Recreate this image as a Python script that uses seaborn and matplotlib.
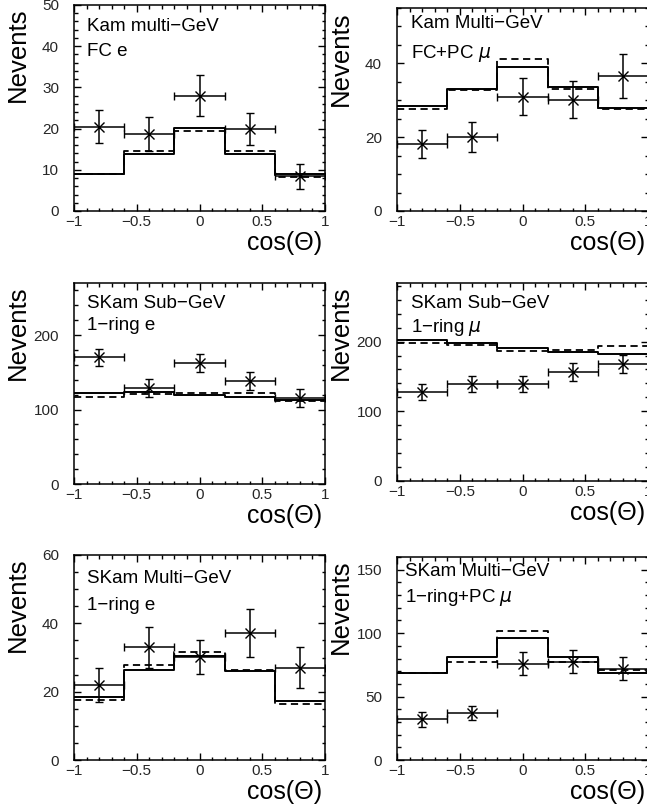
import numpy as np
import matplotlib
matplotlib.use("Agg")
import matplotlib.pyplot as plt
import seaborn as sns
from matplotlib.ticker import MultipleLocator

# ---------------- data ----------------
edges = [-1.0, -0.6, -0.2, 0.2, 0.6, 1.0]
centers = [-0.8, -0.4, 0.0, 0.4, 0.8]
x_half_width = 0.2

titles = [
    ("Kam multi−GeV", "FC e"),
    ("Kam Multi−GeV", "FC+PC $\\mu$"),
    ("SKam Sub−GeV", "1−ring e"),
    ("SKam Sub−GeV", "1−ring $\\mu$"),
    ("SKam Multi−GeV", "1−ring e"),
    ("SKam Multi−GeV", "1−ring+PC $\\mu$"),
]

kam_mg_e_data = [20.5, 18.7, 28.0, 19.9, 8.4]
kam_mg_e_err = [4.0, 4.1, 5.0, 4.0, 3.0]
kam_mg_e_solid = [9.1, 13.9, 20.1, 13.9, 8.9]
kam_mg_e_dashed = [9.0, 14.6, 19.4, 14.6, 8.3]

kam_mg_mu_data = [18.2, 20.0, 31.0, 30.2, 36.6]
kam_mg_mu_err = [3.8, 4.0, 4.9, 5.0, 6.0]
kam_mg_mu_solid = [28.5, 33.1, 39.0, 33.5, 28.0]
kam_mg_mu_dashed = [27.6, 32.8, 41.3, 33.0, 27.7]

sk_sg_e_data = [170, 129, 163, 138, 116]
sk_sg_e_err = [12, 12, 12, 12, 12]
sk_sg_e_solid = [122, 123.5, 120, 116.5, 113]
sk_sg_e_dashed = [117, 121, 122, 122, 111]

sk_sg_mu_data = [127, 139, 139, 156, 168]
sk_sg_mu_err = [11.5, 12, 12, 13, 12.5]
sk_sg_mu_solid = [202, 197.5, 191, 185.5, 181.8]
sk_sg_mu_dashed = [197.5, 195, 186.5, 188, 194]

sk_mg_e_data = [22.0, 33.0, 30.2, 37.1, 27.0]
sk_mg_e_err = [5, 6, 5, 7, 6]
sk_mg_e_solid = [18.3, 26.2, 30.5, 26.0, 17.3]
sk_mg_e_dashed = [17.6, 27.7, 31.6, 26.4, 16.3]

sk_mg_mu_data = [32, 37, 76, 77.6, 72]
sk_mg_mu_err = [6, 5.5, 9, 9, 9]
sk_mg_mu_solid = [68.4, 80.8, 96, 80.8, 68.4]
sk_mg_mu_dashed = [68.4, 77.1, 102, 77.6, 71]

y_max = [50, 55, 270, 284, 60, 160]
y_major = [10, 20, 100, 100, 20, 50]
y_minor = [2, 5, 20, 20, 5, 10]

panels = [
    (kam_mg_e_data, kam_mg_e_err, kam_mg_e_solid, kam_mg_e_dashed),
    (kam_mg_mu_data, kam_mg_mu_err, kam_mg_mu_solid, kam_mg_mu_dashed),
    (sk_sg_e_data, sk_sg_e_err, sk_sg_e_solid, sk_sg_e_dashed),
    (sk_sg_mu_data, sk_sg_mu_err, sk_sg_mu_solid, sk_sg_mu_dashed),
    (sk_mg_e_data, sk_mg_e_err, sk_mg_e_solid, sk_mg_e_dashed),
    (sk_mg_mu_data, sk_mg_mu_err, sk_mg_mu_solid, sk_mg_mu_dashed),
]

# ---------------- layout (pixels) ----------------
W, H = 647, 810
# left, top, right, bottom in pixels
boxes = [
    (74, 5, 325, 211),
    (397, 8, 648, 211),
    (74, 283, 325, 484),
    (397, 283, 648, 481),
    (74, 555, 325, 760),
    (397, 557, 648, 760),
]
# annotation offsets (px from axes top-left): (dx, dy line1, dy line2)
text_off = [
    (13, 13, 38),
    (14, 7, 35),
    (13, 12, 34),
    (14, 12, 34),
    (13, 15, 42),
    (8, 6, 30),
]

sns.set_theme(style="ticks")
plt.rcParams["font.family"] = ["Liberation Sans", "DejaVu Sans"]
plt.rcParams["axes.linewidth"] = 1.1
plt.rcParams["axes.edgecolor"] = "black"
plt.rcParams["text.color"] = "black"

DPI = 100
fig = plt.figure(figsize=(W / DPI, H / DPI), dpi=DPI)
PT = 72.0 / DPI  # points per pixel

for i, (data, err, solid, dashed) in enumerate(panels):
    l, t, r, b = boxes[i]
    ax = fig.add_axes([l / W, 1 - b / H, (r - l) / W, (b - t) / H])

    sns.histplot(x=centers, weights=solid, bins=edges, element="step",
                 fill=False, color="black", linewidth=1.4, ax=ax)
    sns.histplot(x=centers, weights=dashed, bins=edges, element="step",
                 fill=False, color="black", linewidth=1.3, linestyle=(0, (4, 2.5)),
                 ax=ax)
    ax.errorbar(centers, data, xerr=x_half_width, yerr=err, fmt="x",
                color="black", ms=6.5, mew=1.0, elinewidth=1.1,
                capsize=3.2, capthick=1.1)

    ax.set_xlim(-1, 1)
    ax.set_ylim(0, y_max[i])
    ax.xaxis.set_major_locator(MultipleLocator(0.5))
    ax.xaxis.set_minor_locator(MultipleLocator(0.1))
    ax.yaxis.set_major_locator(MultipleLocator(y_major[i]))
    ax.yaxis.set_minor_locator(MultipleLocator(y_minor[i]))
    ax.xaxis.set_major_formatter(plt.FuncFormatter(
        lambda v, p: ("%g" % v).replace("-", "−")))
    ax.tick_params(which="both", direction="in", top=True, right=True,
                   color="black", width=1.0)
    ax.tick_params(which="major", length=7 * PT)
    ax.tick_params(which="minor", length=3.5 * PT)
    ax.tick_params(axis="y", which="major", pad=15 * PT, labelsize=11)
    ax.tick_params(axis="x", which="major", pad=4 * PT, labelsize=11)
    ax.set_xlabel("")
    ax.set_ylabel("")
    for s in ax.spines.values():
        s.set_visible(True)
        s.set_color("black")

    dx, dy1, dy2 = text_off[i]
    ax.annotate(titles[i][0], xy=(0, 1), xycoords="axes fraction",
                xytext=(dx * PT, -dy1 * PT), textcoords="offset points",
                ha="left", va="top", fontsize=13.5)
    ax.annotate(titles[i][1], xy=(0, 1), xycoords="axes fraction",
                xytext=(dx * PT, -dy2 * PT), textcoords="offset points",
                ha="left", va="top", fontsize=13.5)
    ax.annotate("Nevents", xy=(0, 1), xycoords="axes fraction",
                xytext=(-56 * PT, -3 * PT), textcoords="offset points",
                ha="center", va="top", rotation=90, fontsize=18.5)
    ax.annotate("cos(Θ)", xy=(1, 0), xycoords="axes fraction",
                xytext=(-3 * PT, -20 * PT), textcoords="offset points",
                ha="right", va="top", fontsize=18)

fig.savefig("out.png", dpi=DPI)
